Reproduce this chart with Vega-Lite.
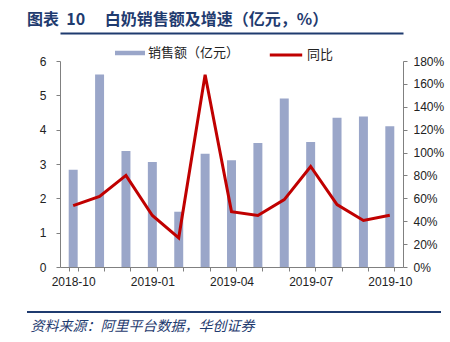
{
  "$schema": "https://vega.github.io/schema/vega-lite/v6.json",
  "autosize": {"type": "none"},
  "width": 343,
  "height": 206,
  "padding": {"left": 60, "top": 61, "right": 47, "bottom": 75},
  "background": "white",
  "config": {"view": {"stroke": null}},
  "title": {
    "text": "图表\u00a0\u00a010\u3000\u00a0白奶销售额及增速（亿元，%）",
    "anchor": "start",
    "frame": "group",
    "dx": -33,
    "offset": -11,
    "baseline": "bottom",
    "font": "Noto Sans CJK SC",
    "fontSize": 16,
    "fontWeight": "bold",
    "color": "#1f3b6f"
  },
  "data": {
    "values": [
      {"month": "2018-10", "sales": 2.83, "yoy": 0.536},
      {"month": "2018-11", "sales": 5.61, "yoy": 0.617},
      {"month": "2018-12", "sales": 3.38, "yoy": 0.80},
      {"month": "2019-01", "sales": 3.06, "yoy": 0.45},
      {"month": "2019-02", "sales": 1.61, "yoy": 0.255},
      {"month": "2019-03", "sales": 3.30, "yoy": 1.68},
      {"month": "2019-04", "sales": 3.11, "yoy": 0.484},
      {"month": "2019-05", "sales": 3.61, "yoy": 0.45},
      {"month": "2019-06", "sales": 4.91, "yoy": 0.589},
      {"month": "2019-07", "sales": 3.64, "yoy": 0.878},
      {"month": "2019-08", "sales": 4.35, "yoy": 0.545},
      {"month": "2019-09", "sales": 4.38, "yoy": 0.406},
      {"month": "2019-10", "sales": 4.10, "yoy": 0.452}
    ]
  },
  "layer": [
    {
      "mark": {"type": "bar"},
      "encoding": {
        "x": {
          "field": "month", "type": "ordinal",
          "scale": {"paddingInner": 0.66, "paddingOuter": 0.33},
          "axis": {
            "orient": "bottom",
            "title": "资料来源：阿里平台数据，华创证券",
            "titleAnchor": "start",
            "titleAlign": "left",
            "titleBaseline": "middle",
            "titleX": -30,
            "titleY": 59,
            "titleFont": "Noto Sans CJK SC",
            "titleFontSize": 14,
            "titleFontStyle": "italic",
            "titleFontWeight": "normal",
            "titleColor": "#1f3b6f",
            "labelAngle": 0,
            "labelExpr": "test(/-(01|04|07|10)$/, datum.value) ? datum.value : ''",
            "labelFont": "Liberation Sans",
            "labelFontSize": 12,
            "labelColor": "#222222",
            "labelPadding": 5,
            "labelOverlap": false,
            "tickBand": "extent",
            "tickSize": 4,
            "tickColor": "#808080",
            "domainColor": "#808080"
          }
        },
        "y": {
          "field": "sales", "type": "quantitative",
          "scale": {"domain": [0, 6], "nice": false},
          "axis": {
            "orient": "left",
            "values": [0, 1, 2, 3, 4, 5, 6],
            "title": null,
            "grid": false,
            "labelFont": "Liberation Sans",
            "labelFontSize": 12,
            "labelColor": "#222222",
            "labelPadding": 10,
            "tickSize": 4,
            "tickColor": "#808080",
            "domainColor": "#808080"
          }
        },
        "color": {
          "datum": "销售额（亿元）",
          "scale": {"range": ["#9aa6c9"]},
          "legend": {
            "orient": "none",
            "legendX": 55,
            "legendY": -23,
            "title": null,
            "symbolType": "M-1,-0.15H1V0.15H-1Z",
            "symbolSize": 900,
            "symbolStrokeWidth": 0,
            "labelFont": "Noto Sans CJK SC",
            "labelFontSize": 13,
            "labelColor": "#222222",
            "labelOffset": 3
          }
        }
      }
    },
    {
      "mark": {"type": "line", "strokeWidth": 3},
      "encoding": {
        "x": {
          "field": "month", "type": "ordinal",
          "axis": {
            "orient": "top",
            "offset": 28,
            "title": null,
            "labels": false,
            "ticks": false,
            "domainColor": "#1f3b6f",
            "domainWidth": 2
          }
        },
        "y": {
          "field": "yoy", "type": "quantitative",
          "scale": {"domain": [0, 1.8], "nice": false},
          "axis": {
            "orient": "right",
            "values": [0, 0.2, 0.4, 0.6, 0.8, 1.0, 1.2, 1.4, 1.6, 1.8],
            "format": ".0%",
            "title": null,
            "grid": false,
            "labelFont": "Liberation Sans",
            "labelFontSize": 12,
            "labelColor": "#222222",
            "labelPadding": 6,
            "tickSize": 4,
            "tickColor": "#808080",
            "domainColor": "#808080"
          }
        },
        "stroke": {
          "datum": "同比",
          "scale": {"range": ["#c00000"]},
          "legend": {
            "orient": "none",
            "legendX": 208,
            "legendY": -24,
            "title": null,
            "symbolType": "stroke",
            "symbolSize": 1050,
            "symbolStrokeWidth": 3,
            "labelFont": "Noto Sans CJK SC",
            "labelFontSize": 13,
            "labelColor": "#222222",
            "labelOffset": 3
          }
        }
      }
    },
    {
      "transform": [{"filter": "datum.sales < 0"}],
      "mark": {"type": "point", "filled": true, "color": "#1f3b6f", "size": 100},
      "encoding": {
        "shape": {
          "datum": "bottom",
          "scale": {"range": ["M-41.4,-0.2H41.4V0.2H-41.4Z"]},
          "legend": {
            "orient": "none",
            "legendX": 169,
            "legendY": 246,
            "title": null,
            "symbolSize": 100,
            "symbolFillColor": "#1f3b6f",
            "symbolStrokeWidth": 0,
            "symbolOpacity": 1,
            "labelExpr": "''",
            "labelFontSize": 1
          }
        }
      }
    }
  ],
  "resolve": {
    "scale": {"y": "independent"},
    "axis": {"x": "independent", "y": "independent"}
  }
}
